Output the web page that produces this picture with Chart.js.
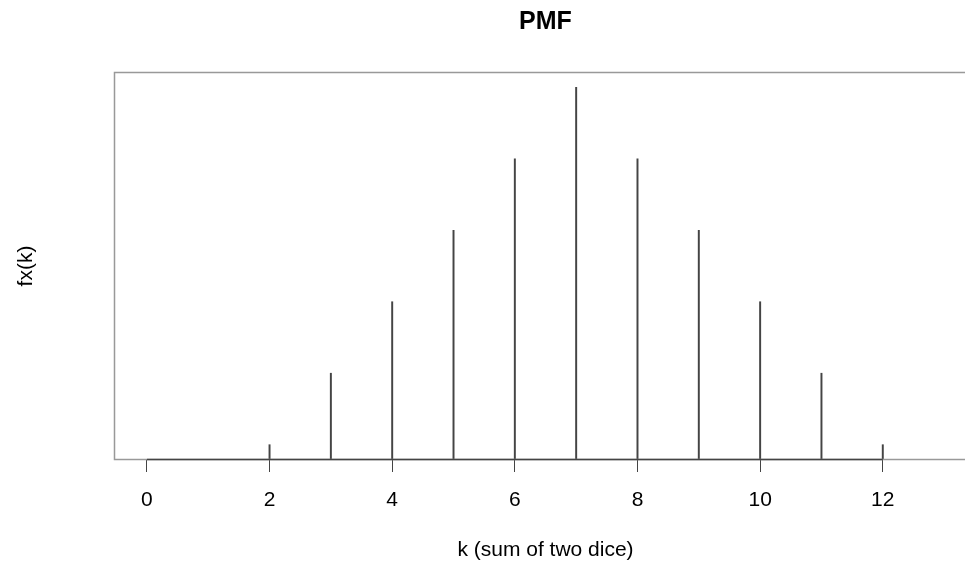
<!DOCTYPE html>
<html>
<head>
<meta charset="utf-8">
<script src="https://cdn.jsdelivr.net/npm/chart.js@4.4.1/dist/chart.umd.min.js"></script>
<style>
  html, body { margin: 0; padding: 0; overflow: hidden; background: #fff; }
  #wrap { width: 965px; height: 566px; overflow: hidden; }
  canvas { display: block; }
</style>
</head>
<body>
<div id="wrap"><canvas id="c" width="1000" height="566"></canvas></div>
<script>
// Data: PMF of the sum of two dice
const kValues = [2, 3, 4, 5, 6, 7, 8, 9, 10, 11, 12];
const pmfValues = [1/36, 2/36, 3/36, 4/36, 5/36, 6/36, 5/36, 4/36, 3/36, 2/36, 1/36];
const xTickValues = [0, 2, 4, 6, 8, 10, 12];
const xRange = [-0.52, 13.52];
const yRange = [0.8/36, 6.2/36];

const FONT = "'Liberation Sans', Arial, Helvetica, sans-serif";

const boxPlugin = {
  id: 'rbox',
  afterDraw(chart) {
    const {ctx, chartArea: a, scales: {x}} = chart;
    ctx.save();
    ctx.strokeStyle = '#999999';
    ctx.lineWidth = 1.5;
    ctx.strokeRect(a.left - 0.5, a.top - 0.5, a.right - a.left + 1, a.bottom - a.top + 1);
    // axis line spanning first to last tick
    ctx.strokeStyle = '#444444';
    ctx.lineWidth = 1.5;
    ctx.beginPath();
    ctx.moveTo(x.getPixelForValue(xTickValues[0]), a.bottom + 0.5);
    ctx.lineTo(x.getPixelForValue(xTickValues[xTickValues.length - 1]), a.bottom + 0.5);
    ctx.stroke();
    ctx.restore();
  }
};

new Chart(document.getElementById('c'), {
  type: 'bar',
  data: {
    datasets: [{
      data: kValues.map((k, i) => ({x: k, y: pmfValues[i]})),
      backgroundColor: '#444444',
      borderWidth: 0,
      barThickness: 1.3,
      base: 0
    }]
  },
  options: {
    responsive: false,
    animation: false,
    devicePixelRatio: 1,
    layout: { padding: { left: 0, right: 24, top: 0, bottom: 0 } },
    plugins: {
      legend: { display: false },
      tooltip: { enabled: false },
      title: {
        display: true,
        text: 'PMF',
        fullSize: false,
        color: '#000',
        font: { family: FONT, size: 25, weight: 'bold', lineHeight: 1.2 },
        padding: { top: 7, bottom: 36 }
      }
    },
    scales: {
      x: {
        type: 'linear',
        offset: false,
        min: xRange[0],
        max: xRange[1],
        afterBuildTicks: (s) => { s.ticks = xTickValues.map(v => ({value: v})); },
        afterFit: (s) => { s.height = 107; },
        border: { display: false },
        grid: {
          display: true,
          offset: false,
          drawOnChartArea: false,
          drawTicks: true,
          tickLength: 13,
          color: '#444444',
          lineWidth: 1
        },
        ticks: {
          color: '#000',
          font: { family: FONT, size: 21 },
          padding: 16,
          maxRotation: 0,
          autoSkip: false
        },
        title: {
          display: true,
          text: 'k (sum of two dice)',
          color: '#000',
          font: { family: FONT, size: 21, lineHeight: 1.2 },
          padding: { top: 0, bottom: 3 }
        }
      },
      y: {
        min: yRange[0],
        max: yRange[1],
        afterFit: (s) => { s.width = 115; },
        border: { display: false },
        grid: { display: false },
        ticks: { display: false },
        title: {
          display: true,
          text: 'fx(k)',
          color: '#000',
          font: { family: FONT, size: 21, lineHeight: 1.2 },
          padding: { top: 14, bottom: 0 }
        }
      }
    }
  },
  plugins: [boxPlugin]
});
</script>
</body>
</html>
